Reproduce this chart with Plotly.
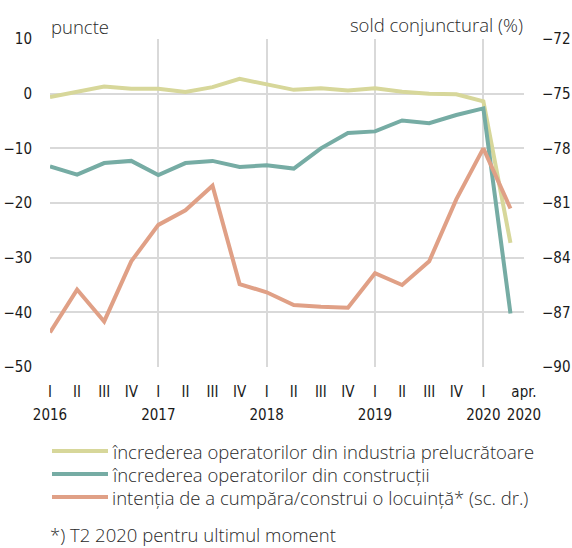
import plotly.graph_objects as go

# ---- data ----
quarter_idx = list(range(18))
quarter_labels = ["I", "II", "III", "IV"] * 4 + ["I", "apr."]
year_pos = [0, 4, 8, 12, 16, 17.5]
year_text = ["2016", "2017", "2018", "2019", "2020", "2020"]
year_starts = [0, 4, 8, 12, 16]

industry = [-0.6, 0.3, 1.3, 0.9, 0.9, 0.3, 1.2, 2.7, 1.7, 0.7, 1.0, 0.6, 1.0, 0.35, 0.0, -0.1, -1.4, -27.3]
construction = [-13.3, -14.8, -12.7, -12.3, -14.9, -12.7, -12.3, -13.4, -13.1, -13.7, -10.0, -7.2, -6.9, -4.9, -5.4, -3.9, -2.7, -40.2]
housing = [-88.1, -85.75, -87.5, -84.2, -82.2, -81.4, -80.05, -85.45, -85.9, -86.6, -86.7, -86.75, -84.85, -85.5, -84.2, -80.8, -78.0, -81.3]

names = [
    "încrederea operatorilor din industria prelucrătoare",
    "încrederea operatorilor din construcții",
    "intenția de a cumpăra/construi o locuință* (sc. dr.)",
]
colors = ["#d7d79a", "#76aca4", "#e0a086"]

left_ticks = [10, 0, -10, -20, -30, -40, -50]
right_ticks = [-72, -75, -78, -81, -84, -87, -90]

# ---- layout helpers ----
W, H = 572, 548
PL, PR, PT, PB = 50, 524, 39, 367


def px_x(p):
    return (p - PL) / (PR - PL)


def px_y(p):
    return (PB - p) / (PB - PT)


TICK_FONT = dict(family="Liberation Sans Narrow, DejaVu Sans Condensed, sans-serif",
                 size=15, color="#1a1a1a")
TEXT_FONT = dict(family="Open Sans, Lato, sans-serif", size=18.5, color="#2a2a2a", weight=300)
GRID = "#d9d9d9"

fig = go.Figure()
fig.add_trace(go.Scatter(x=quarter_idx, y=industry, mode="lines", name=names[0],
                         line=dict(color=colors[0], width=4), yaxis="y"))
fig.add_trace(go.Scatter(x=quarter_idx, y=construction, mode="lines", name=names[1],
                         line=dict(color=colors[1], width=4), yaxis="y"))
fig.add_trace(go.Scatter(x=quarter_idx, y=housing, mode="lines", name=names[2],
                         line=dict(color=colors[2], width=4), yaxis="y2"))

# quarter tick positions ("apr." label sits at the right edge)
tick_vals = [i + 0.5 if q == "apr." else i for i, q in zip(quarter_idx, quarter_labels)]
fig.add_trace(go.Scatter(x=[0], y=[None], xaxis="x2", showlegend=False, hoverinfo="skip"))
fig.add_trace(go.Scatter(x=[0], y=[None], xaxis="x3", showlegend=False, hoverinfo="skip"))

fig.update_layout(
    width=W, height=H,
    margin=dict(l=PL, r=W - PR, t=PT, b=H - PB, autoexpand=False),
    paper_bgcolor="white", plot_bgcolor="white",
    showlegend=False,
    xaxis=dict(range=[0, 17.5], tickmode="array", tickvals=year_starts, showticklabels=False,
               showgrid=True, gridcolor=GRID, gridwidth=2, zeroline=False, showline=False, ticks="",
               automargin=False),
    xaxis2=dict(range=[0, 17.5], overlaying="x", side="bottom", anchor="y", tickmode="array",
                tickvals=tick_vals, ticktext=quarter_labels, showgrid=False, zeroline=False,
                showline=False, ticks="", tickfont=TICK_FONT, ticklabelstandoff=14,
                tickangle=0, automargin=False),
    xaxis3=dict(range=[0, 17.5], overlaying="x", side="bottom", anchor="y", tickmode="array",
                tickvals=year_pos, ticktext=year_text, showgrid=False, zeroline=False,
                showline=False, ticks="", tickfont=TICK_FONT, ticklabelstandoff=37,
                tickangle=0, automargin=False),
    yaxis=dict(range=[-50, 10], tickmode="array", tickvals=left_ticks, showgrid=True,
               gridcolor=GRID, gridwidth=2, zeroline=False, showline=False, ticks="",
               tickfont=TICK_FONT, ticklabelstandoff=17, automargin=False),
    yaxis2=dict(range=[-90, -72], tickmode="array", tickvals=right_ticks, overlaying="y",
                side="right", showgrid=False, zeroline=False, showline=False, ticks="",
                tickfont=TICK_FONT, ticklabelstandoff=17, automargin=False),
)

# axis titles
fig.add_annotation(x=px_x(49), y=px_y(27), xref="paper", yref="paper", text="puncte",
                   showarrow=False, xanchor="left", yanchor="middle", font=TEXT_FONT)
fig.add_annotation(x=px_x(525), y=px_y(25), xref="paper", yref="paper", text="sold conjunctural (%)",
                   showarrow=False, xanchor="right", yanchor="middle", font=TEXT_FONT)

# manual legend
legend_rows = [451, 474, 497]
for name, col, yy in zip(names, colors, legend_rows):
    fig.add_shape(type="line", xref="paper", yref="paper", x0=px_x(52), x1=px_x(108),
                  y0=px_y(yy), y1=px_y(yy), line=dict(color=col, width=4))
    fig.add_annotation(x=px_x(110), y=px_y(yy), xref="paper", yref="paper", text=name,
                       showarrow=False, xanchor="left", yanchor="middle", font=TEXT_FONT)

fig.add_annotation(x=px_x(48), y=px_y(534), xref="paper", yref="paper",
                   text="*) T2 2020 pentru ultimul moment", showarrow=False,
                   xanchor="left", yanchor="middle", font=TEXT_FONT)

fig.write_html("out.html", config={"displayModeBar": False},
               post_script="document.body.style.margin='0';")
